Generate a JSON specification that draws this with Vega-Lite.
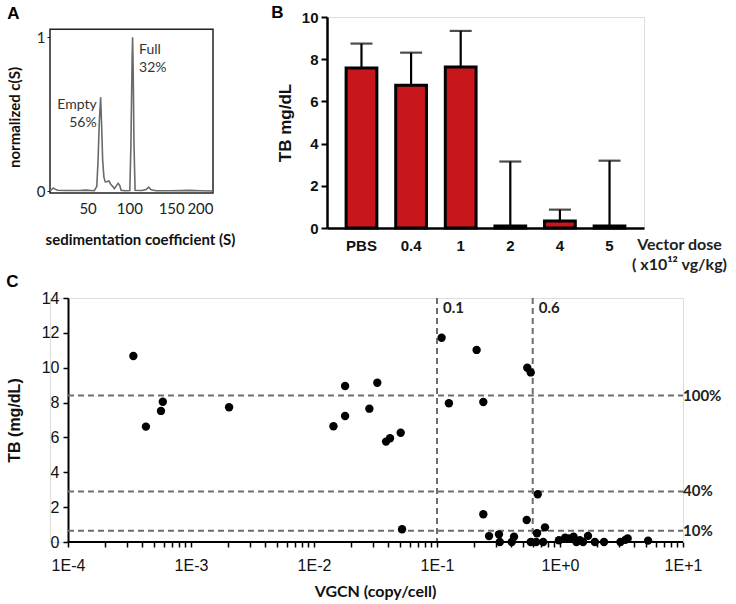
{
"$schema":"https://vega.github.io/schema/vega-lite/v6.json",
"padding":{"left":5,"top":3,"right":0,"bottom":0},
"background":"white",
"config":{"font":"Liberation Sans","axis":{"labelFont":"Liberation Sans","titleFont":"Liberation Sans","grid":false},"title":{"font":"Liberation Sans","fontSize":17,"fontWeight":"bold","anchor":"start","color":"#000"}},
"spacing":-1,
"vconcat":[
 {"hconcat":[
  {
   "title":{"text":"A","offset":-6},
   "width":163,"height":176,
   "view":{"stroke":null},
   "layer":[
    {"data":{"values":[{}]},
     "mark":{"type":"rect","fill":"transparent","stroke":"#222","strokeWidth":1.5},
     "encoding":{"x":{"datum":5},"x2":{"datum":200},"y":{"datum":-0.013},"y2":{"datum":1.052}}},
    {"data":{"values":[
{"s":5,"c":0.0},{"s":7,"c":0.01},{"s":9,"c":0.02},{"s":11,"c":0.012},{"s":14,"c":0.005},{"s":25,"c":0.003},{"s":40,"c":0.003},{"s":48,"c":0.006},{"s":52,"c":0.004},{"s":58,"c":0.002},{"s":61,"c":0.03},{"s":62.5,"c":0.2},{"s":64,"c":0.45},{"s":65.6,"c":0.61},{"s":66.8,"c":0.42},{"s":68,"c":0.2},{"s":69.5,"c":0.09},{"s":71,"c":0.06},{"s":73,"c":0.06},{"s":75.5,"c":0.065},{"s":78,"c":0.04},{"s":80,"c":0.03},{"s":82,"c":0.015},{"s":84.5,"c":0.035},{"s":86.5,"c":0.05},{"s":88.5,"c":0.035},{"s":90,"c":0.005},{"s":95,"c":0.002},{"s":100.5,"c":0.003},{"s":101.8,"c":0.3},{"s":103.2,"c":0.85},{"s":103.8,"c":1.0},{"s":104.5,"c":0.8},{"s":105.5,"c":0.3},{"s":106.8,"c":0.005},{"s":115,"c":0.003},{"s":120,"c":0.01},{"s":123,"c":0.025},{"s":126,"c":0.008},{"s":132,"c":0.002},{"s":150,"c":0.002},{"s":172,"c":0.004},{"s":185,"c":0.002},{"s":200,"c":0.0}
    ]},
     "mark":{"type":"line","color":"#6a6a6a","strokeWidth":1.6},
     "encoding":{
      "x":{"field":"s","type":"quantitative","scale":{"domain":[5,200],"nice":false,"zero":false},
           "axis":{"values":[50,100,150,200],"title":"sedimentation coefficient (S)","domain":false,"ticks":false,"labelOverlap":false,"labelFont":"Lato","labelFontSize":15,"labelColor":"#222","labelPadding":8,"titleFont":"Lato","titleFontSize":15,"titleFontWeight":"bold","titleColor":"#111","titlePadding":16,"titleX":90}},
      "y":{"field":"c","type":"quantitative","scale":{"domain":[-0.013,1.132],"nice":false,"zero":false},
           "axis":{"values":[0,1],"format":"d","title":"normalized c(S)","domain":false,"tickSize":3,"tickColor":"#222","labelOverlap":false,"labelFont":"Lato","labelFontSize":15,"labelColor":"#222","labelPadding":2,"titleFont":"Lato","titleFontSize":15,"titleFontWeight":"bold","titleColor":"#111","titlePadding":14,"titleY":100}}
     }},
    {"data":{"values":[{"s":111.5,"c":0.917,"t":"Full"},{"s":111.5,"c":0.8,"t":"32%"}]},
     "mark":{"type":"text","align":"left","baseline":"middle","font":"Lato","fontSize":14,"color":"#333"},
     "encoding":{"x":{"field":"s","type":"quantitative"},"y":{"field":"c","type":"quantitative"},"text":{"field":"t"}}},
    {"data":{"values":[{"s":60.8,"c":0.559,"t":"Empty"},{"s":60.8,"c":0.44,"t":"56%"}]},
     "mark":{"type":"text","align":"right","baseline":"middle","font":"Lato","fontSize":14,"color":"#333"},
     "encoding":{"x":{"field":"s","type":"quantitative"},"y":{"field":"c","type":"quantitative"},"text":{"field":"t"}}}
   ]
  },
  {
   "title":{"text":"B","dx":-5,"offset":-12},
   "width":317,"height":211,
   "data":{"values":[{"dose":"PBS","tb":7.58,"hi":8.74},{"dose":"0.4","tb":6.76,"hi":8.31},{"dose":"1","tb":7.63,"hi":9.34},{"dose":"2","tb":0.1,"hi":3.15},{"dose":"4","tb":0.33,"hi":0.87},{"dose":"5","tb":0.1,"hi":3.19}]},
   "encoding":{"x":{"field":"dose","type":"nominal","sort":null,"scale":{"paddingInner":0.38,"paddingOuter":0.385},
     "axis":{"title":["Vector dose","( x10¹² vg/kg)"],"labelAngle":0,"ticks":false,"domainColor":"black","domainWidth":2.5,"labelFontSize":15,"labelFontWeight":"bold","labelColor":"#111","labelPadding":10,"titleFont":"Lato","titleFontSize":16,"titleFontWeight":"bold","titleColor":"#222","titleX":352,"titleY":8,"titleAlign":"center","titleBaseline":"top","titleLineHeight":20}}},
   "layer":[
    {"mark":{"type":"rule","color":"black","strokeWidth":2.2},"encoding":{"y":{"field":"tb","type":"quantitative"},"y2":{"field":"hi"}}},
    {"mark":{"type":"tick","color":"black","thickness":2.2,"size":22},"encoding":{"y":{"field":"hi","type":"quantitative"}}},
    {"mark":{"type":"bar","fill":"#c8161d","stroke":"black","strokeWidth":3},
     "encoding":{"y":{"field":"tb","type":"quantitative","scale":{"domain":[0,10],"nice":false},
       "axis":{"values":[0,2,4,6,8,10],"title":"TB mg/dL","labelOverlap":false,"domainColor":"black","domainWidth":2.5,"tickColor":"black","tickWidth":2,"tickSize":6,"labelFontSize":15,"labelFontWeight":"bold","labelColor":"#111","labelPadding":3,"titleFontSize":17,"titleFontWeight":"bold","titleColor":"#111","titlePadding":7}}}}
   ]
  }
 ],"spacing":35},
 {
  "title":{"text":"C","offset":-1},
  "width":633,"height":244,
  "layer":[
   {"data":{"values":[{"tb":8.4,"lab":"100%"},{"tb":2.9,"lab":"40%"},{"tb":0.65,"lab":"10%"}]},
    "mark":{"type":"rule","color":"#6e6e6e","strokeWidth":2,"strokeDash":[6,4]},
    "encoding":{"x":{"datum":0.0001},"x2":{"datum":10},"y":{"field":"tb","type":"quantitative","scale":{"domain":[0,14],"nice":false},
      "axis":{"values":[0,2,4,6,8,10,12,14],"tickCount":8,"title":"TB (mg/dL)","offset":-18,"labelOverlap":false,"domainColor":"black","domainWidth":2,"tickColor":"black","tickWidth":1.5,"tickSize":5,"labelFontSize":16,"labelColor":"#111","labelPadding":4,"titleFontSize":16,"titleFontWeight":"bold","titleColor":"#111","titlePadding":19}}}},
   {"data":{"values":[{"tb":8.4,"lab":"100%"},{"tb":2.9,"lab":"40%"},{"tb":0.65,"lab":"10%"}]},
    "mark":{"type":"text","align":"left","baseline":"middle","font":"Lato","fontSize":15,"fontWeight":"bold","color":"#222"},
    "encoding":{"x":{"datum":10},"y":{"field":"tb","type":"quantitative"},"text":{"field":"lab"}}},
   {"data":{"values":[{"vg":0.1,"lab":"0.1"},{"vg":0.6,"lab":"0.6"}]},
    "mark":{"type":"rule","color":"#6e6e6e","strokeWidth":2,"strokeDash":[6,4]},
    "encoding":{"x":{"field":"vg","type":"quantitative"}}},
   {"data":{"values":[{"vg":0.1,"lab":"0.1"},{"vg":0.6,"lab":"0.6"}]},
    "mark":{"type":"text","align":"left","baseline":"top","dx":6,"dy":3,"font":"Lato","fontSize":15,"fontWeight":"bold","color":"#222"},
    "encoding":{"x":{"field":"vg","type":"quantitative"},"y":{"datum":14},"text":{"field":"lab"}}},
   {"data":{"values":[{}]},
    "mark":{"type":"rule","color":"black","strokeWidth":2},
    "encoding":{"x":{"datum":0.0001},"x2":{"datum":10},"y":{"datum":0}}},
   {"data":{"values":[
{"vg":0.00034,"tb":10.67},{"vg":0.00043,"tb":6.62},{"vg":0.00059,"tb":8.05},{"vg":0.00057,"tb":7.52},{"vg":0.00204,"tb":7.73},
{"vg":0.0144,"tb":6.64},{"vg":0.0179,"tb":8.95},{"vg":0.0179,"tb":7.23},{"vg":0.0282,"tb":7.65},{"vg":0.0327,"tb":9.14},{"vg":0.0385,"tb":5.76},{"vg":0.0415,"tb":5.95},{"vg":0.0507,"tb":6.27},{"vg":0.052,"tb":0.73},
{"vg":0.109,"tb":11.72},{"vg":0.125,"tb":7.96},{"vg":0.21,"tb":11.02},{"vg":0.238,"tb":8.03},{"vg":0.542,"tb":10.0},{"vg":0.578,"tb":9.73},{"vg":0.659,"tb":2.74},{"vg":0.238,"tb":1.59},{"vg":0.536,"tb":1.26},{"vg":0.755,"tb":0.84},{"vg":0.65,"tb":0.5},
{"vg":0.265,"tb":0.34},{"vg":0.319,"tb":0.44},{"vg":0.423,"tb":0.3},{"vg":0.324,"tb":0},{"vg":0.405,"tb":0},{"vg":0.578,"tb":0},{"vg":0.64,"tb":0},{"vg":0.73,"tb":0},
{"vg":0.98,"tb":0.1},{"vg":1.1,"tb":0.25},{"vg":1.29,"tb":0.3},{"vg":1.18,"tb":0.2},{"vg":1.36,"tb":0},{"vg":1.45,"tb":0.1},{"vg":1.54,"tb":0},{"vg":1.69,"tb":0.35},{"vg":1.92,"tb":0},{"vg":2.28,"tb":0},{"vg":3.1,"tb":0},{"vg":3.4,"tb":0.12},{"vg":3.55,"tb":0.2},{"vg":5.2,"tb":0.08}
    ]},
    "mark":{"type":"circle","size":70,"color":"black","opacity":1},
    "encoding":{
     "x":{"field":"vg","type":"quantitative","scale":{"type":"log","domain":[0.0000714,10],"nice":false},
      "axis":{"title":"VGCN (copy/cell)","domain":false,"values":[0.0001,0.0002,0.0003,0.0004,0.0005,0.0006,0.0007,0.0008,0.0009,0.001,0.002,0.003,0.004,0.005,0.006,0.007,0.008,0.009,0.01,0.02,0.03,0.04,0.05,0.06,0.07,0.08,0.09,0.1,0.2,0.3,0.4,0.5,0.6,0.7,0.8,0.9,1,2,3,4,5,6,7,8,9,10],
       "labelExpr":"abs(log(datum.value)/LN10 - round(log(datum.value)/LN10)) < 0.001 ? '1E' + (round(log(datum.value)/LN10) >= 0 ? '+' : '') + round(log(datum.value)/LN10) : ''",
       "labelOverlap":false,"labelFlush":false,"tickColor":"black","tickWidth":1.5,"tickSize":5,"labelFontSize":16,"labelColor":"#111","labelPadding":10,"titleFont":"Lato","titleFontSize":16,"titleFontWeight":"bold","titleColor":"#111","titlePadding":10,"titleX":325}},
     "y":{"field":"tb","type":"quantitative"}
    }}
  ]
 }
]
}
